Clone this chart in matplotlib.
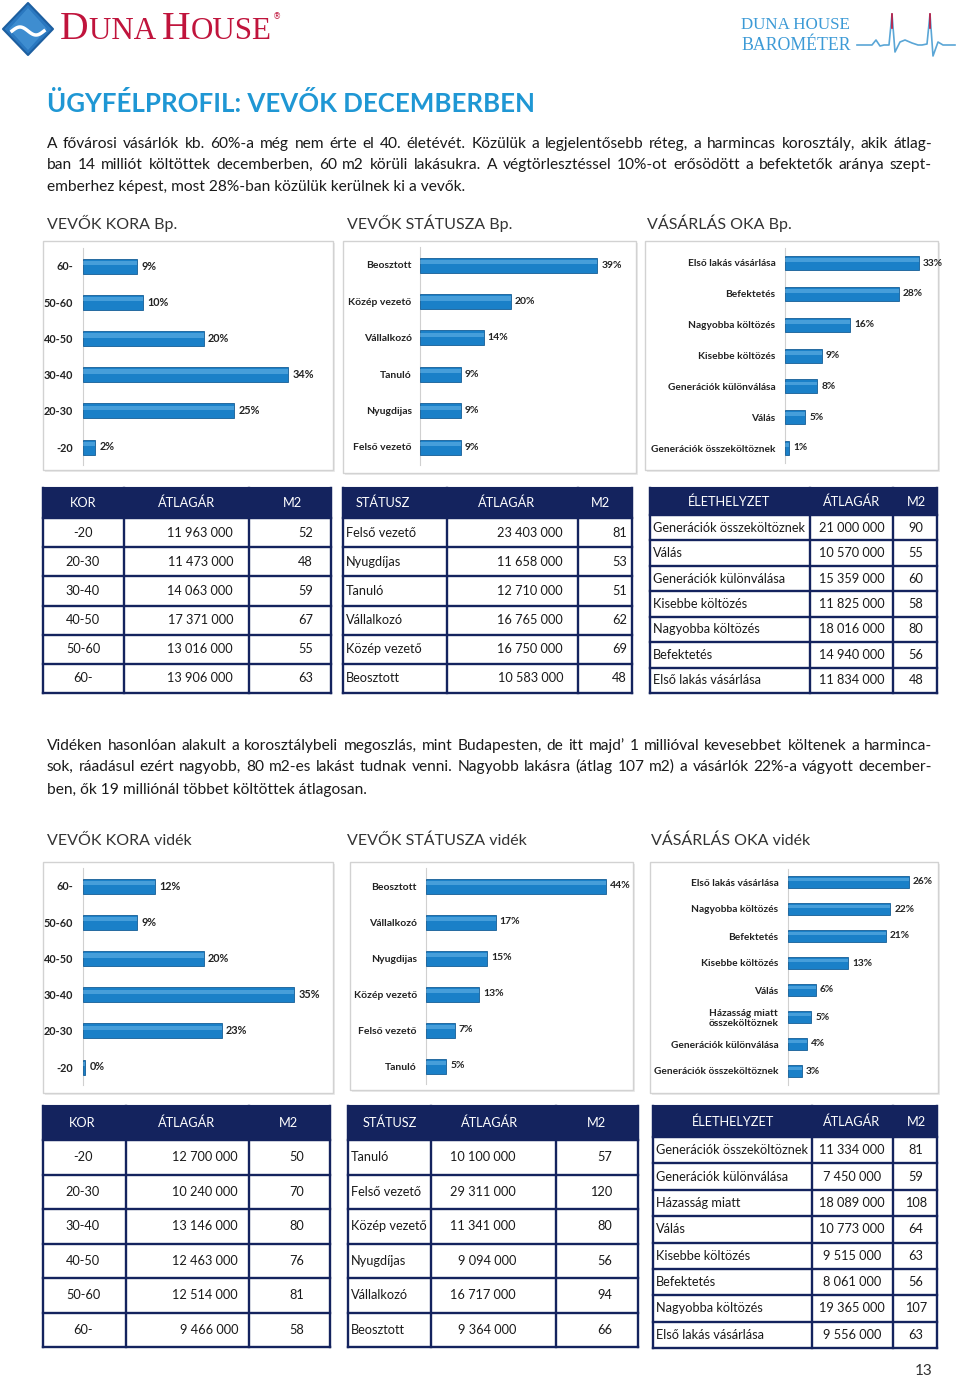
import matplotlib
matplotlib.use("Agg")
import matplotlib.pyplot as plt
from matplotlib.patches import Rectangle, Polygon
import numpy as np

plt.rcParams['font.family'] = ['Lato', 'DejaVu Sans']

# ---------------- DATA ----------------
age_cats = ["60-", "50-60", "40-50", "30-40", "20-30", "-20"]
age_bp = [9, 10, 20, 34, 25, 2]
status_bp_cats = ["Beosztott", "Közép vezető", "Vállalkozó", "Tanuló", "Nyugdijas", "Felső vezető"]
status_bp = [39, 20, 14, 9, 9, 9]
reason_bp_cats = ["Első lakás vásárlása", "Befektetés", "Nagyobba költözés", "Kisebbe költözés",
                  "Generációk különválása", "Válás", "Generációk összeköltöznek"]
reason_bp = [33, 28, 16, 9, 8, 5, 1]

age_v = [12, 9, 20, 35, 23, 0.4]
status_v_cats = ["Beosztott", "Vállalkozó", "Nyugdijas", "Közép vezető", "Felső vezető", "Tanuló"]
status_v = [44, 17, 15, 13, 7, 5]
reason_v_cats = ["Első lakás vásárlása", "Nagyobba költözés", "Befektetés", "Kisebbe költözés", "Válás",
                 "Házasság miatt\nösszeköltöznek", "Generációk különválása", "Generációk összeköltöznek"]
reason_v = [26, 22, 21, 13, 6, 5, 4, 3]

kor_rows = ["-20", "20-30", "30-40", "40-50", "50-60", "60-"]
kor_bp_price = [11963000, 11473000, 14063000, 17371000, 13016000, 13906000]
kor_bp_m2 = [52, 48, 59, 67, 55, 63]
stat_bp_rows = ["Felső vezető", "Nyugdíjas", "Tanuló", "Vállalkozó", "Közép vezető", "Beosztott"]
stat_bp_price = [23403000, 11658000, 12710000, 16765000, 16750000, 10583000]
stat_bp_m2 = [81, 53, 51, 62, 69, 48]
elet_bp_rows = ["Generációk összeköltöznek", "Válás", "Generációk különválása", "Kisebbe költözés",
                "Nagyobba költözés", "Befektetés", "Első lakás vásárlása"]
elet_bp_price = [21000000, 10570000, 15359000, 11825000, 18016000, 14940000, 11834000]
elet_bp_m2 = [90, 55, 60, 58, 80, 56, 48]

kor_v_price = [12700000, 10240000, 13146000, 12463000, 12514000, 9466000]
kor_v_m2 = [50, 70, 80, 76, 81, 58]
stat_v_rows = ["Tanuló", "Felső vezető", "Közép vezető", "Nyugdíjas", "Vállalkozó", "Beosztott"]
stat_v_price = [10100000, 29311000, 11341000, 9094000, 16717000, 9364000]
stat_v_m2 = [57, 120, 80, 56, 94, 66]
elet_v_rows = ["Generációk összeköltöznek", "Generációk különválása", "Házasság miatt", "Válás",
               "Kisebbe költözés", "Befektetés", "Nagyobba költözés", "Első lakás vásárlása"]
elet_v_price = [11334000, 7450000, 18089000, 10773000, 9515000, 8061000, 19365000, 9556000]
elet_v_m2 = [81, 59, 108, 64, 63, 56, 107, 63]

title = "ÜGYFÉLPROFIL: VEVŐK DECEMBERBEN"
para1 = ["A fővárosi vásárlók kb. 60%-a még nem érte el 40. életévét. Közülük a legjelentősebb réteg, a harmincas korosztály, akik átlag-",
         "ban 14 milliót költöttek decemberben, 60 m2 körüli lakásukra. A végtörlesztéssel 10%-ot erősödött a befektetők aránya szept-",
         "emberhez képest, most 28%-ban közülük kerülnek ki a vevők."]
para2 = ["Vidéken hasonlóan alakult a korosztálybeli megoszlás, mint Budapesten, de itt majd’ 1 millióval kevesebbet költenek a harminca-",
         "sok, ráadásul ezért nagyobb, 80 m2-es lakást tudnak venni. Nagyobb lakásra (átlag 107 m2) a vásárlók 22%-a vágyott december-",
         "ben, ők 19 milliónál többet költöttek átlagosan."]

# ---------------- SETUP ----------------
W, H = 960, 1380
fig = plt.figure(figsize=(9.6, 13.8), dpi=100)
page = fig.add_axes([0, 0, 1, 1])
page.set_xlim(0, W)
page.set_ylim(H, 0)
page.axis('off')
renderer = fig.canvas.get_renderer()

NAVY = '#14235e'
BLUE_TXT = '#1f97d4'
DARK = '#222222'


def px_axes(x, y, w, h):
    return fig.add_axes([x / W, 1 - (y + h) / H, w / W, h / H])


def text_width(s, fs, **kw):
    t = page.text(0, 0, s, fontsize=fs, **kw)
    w = t.get_window_extent(renderer).width
    t.remove()
    return w


def fit_text(x, y, s, target, fs, **kw):
    w = text_width(s, fs, **{k: v for k, v in kw.items() if k in ('fontweight', 'family')})
    fs2 = fs * target / w
    return page.text(x, y, s, fontsize=fs2, **kw)


def justified(lines, x0, x1, ys, fs, color):
    for i, (line, y) in enumerate(zip(lines, ys)):
        if i == len(lines) - 1:
            page.text(x0, y, line, fontsize=fs, va='baseline', ha='left', color=color)
            continue
        words = line.split(' ')
        widths = [text_width(w, fs) for w in words]
        gap = (x1 - x0 - sum(widths)) / (len(words) - 1)
        x = x0
        for w, wd in zip(words, widths):
            page.text(x, y, w, fontsize=fs, va='baseline', ha='left', color=color)
            x += wd + gap


# ---------------- HEADER ----------------
page.add_patch(Polygon([(28, 3), (53, 29), (28, 55), (3, 29)], closed=True,
                       fc='#2a78c0', ec='#1d5fa0', lw=1.5, joinstyle='round'))
page.add_patch(Polygon([(28, 8), (47, 29), (28, 50), (9, 29)], closed=True,
                       fc='#4d9cdb', ec='none', alpha=0.6))
wx = np.linspace(12, 44, 40)
page.plot(wx, 31 - 4 * np.sin((wx - 12) / 32 * 2 * np.pi), color='white', lw=2.5)

xs = 60
pieces = [("D", 28.5), ("UNA ", 22.3), ("H", 28.5), ("OUSE", 22.3)]
for s, f in pieces:
    page.text(xs, 39, s, fontsize=f, family='Liberation Serif', color='#c0143c', va='baseline')
    xs += text_width(s, f, family='Liberation Serif')
page.text(xs + 1, 17, "®", fontsize=6, family='DejaVu Sans', color='#c0143c', va='center')

fit_text(741, 25, "DUNA HOUSE", 109, 12, family='Liberation Serif', color='#3c9ad6', va='center')
fit_text(741, 45, "BAROMÉTER", 109, 12, family='Liberation Serif', color='#3c9ad6', va='center')
ex = [857, 872, 876, 880, 884, 889, 892, 895, 900, 905, 912, 918, 922, 927, 930, 933, 938, 943, 955]
ey = [45, 45, 40, 46, 45, 45, 14, 52, 42, 40, 43, 45, 45, 44, 14, 56, 42, 45, 45]
page.plot(ex, ey, color='#5aa6d6', lw=1.2)
page.plot([892, 892], [14, 28], color='#c0143c', lw=1.2)
page.plot([930, 930], [14, 28], color='#c0143c', lw=1.2)

# ---------------- TITLE & TEXT ----------------
fit_text(47, 104, title, 486, 16, fontweight='bold', color=BLUE_TXT, va='center')

base_fs = 10.2
maxw = max(text_width(l, base_fs) for l in para1 + para2)
pfs = base_fs * 868 / maxw
justified(para1, 47, 932, [148, 169, 191], pfs, '#1a1a1a')
justified(para2, 47, 932, [750, 771, 794], pfs, '#1a1a1a')

sec_fs = 11.5
for x, y, s in [(47, 223, "VEVŐK KORA Bp."), (347, 223, "VEVŐK STÁTUSZA Bp."), (647, 223, "VÁSÁRLÁS OKA Bp."),
                (47, 841, "VEVŐK KORA vidék"), (347, 841, "VEVŐK STÁTUSZA vidék"),
                (651, 841, "VÁSÁRLÁS OKA vidék")]:
    page.text(x, y, s, fontsize=sec_fs, color='#333333', va='center', ha='left')

page.text(933, 1371, "13", fontsize=11, color='#333333', va='center', ha='right')

# ---------------- CHART BOXES ----------------
for (x, y, w, h) in [(43, 241, 290, 229), (343, 241, 293, 232), (645, 241, 293, 229),
                     (43, 862, 290, 231), (350, 862, 283, 228), (650, 862, 288, 231)]:
    page.add_patch(Rectangle((x + 2, y + 2), w, h, fc='#ececec', ec='none', zorder=0))
    page.add_patch(Rectangle((x, y), w, h, fc='white', ec='#d2d2d2', lw=1, zorder=1))


# ---------------- BAR CHARTS ----------------
def bar_chart(cats, vals, axis_x, yt, yb, scale, right, pad, bar_px=14, fs=7.5):
    n = len(cats)
    step = (yb - yt) / (n - 1)
    top = yt - step / 2
    hgt = n * step
    ax = px_axes(axis_x, top, right - axis_x, hgt)
    ax.patch.set_alpha(0)
    ax.set_xlim(0, (right - axis_x) / scale)
    ax.set_ylim(-0.5, n - 0.5)
    pos = np.arange(n)[::-1]
    bh = bar_px / step
    ax.barh(pos, vals, height=bh, color='#1a80c8', edgecolor='#155d96', lw=0.6, zorder=3)
    ax.barh(pos + bh * 0.2, vals, height=bh * 0.28, color='#7cc4f0', alpha=0.45, lw=0, zorder=4)
    for p, v in zip(pos, vals):
        ax.annotate(f"{round(v)}%", (v, p), xytext=(3, 0), textcoords='offset points',
                    va='center', ha='left', fontsize=fs, fontweight='bold', color=DARK)
    ax.set_yticks(pos)
    ax.set_yticklabels(cats, fontsize=fs, fontweight='bold', color=DARK)
    for lab in ax.get_yticklabels():
        lab.set_multialignment('center')
    ax.tick_params(axis='y', length=0, pad=pad)
    ax.set_xticks([])
    for s in ['top', 'right', 'bottom']:
        ax.spines[s].set_visible(False)
    ax.spines['left'].set_color('#d0d0d0')
    ax.spines['left'].set_linewidth(0.8)
    return ax


bar_chart(age_cats, age_bp, 83, 266, 447, 6.04, 330, 7, bar_px=15, fs=7.8)
bar_chart(status_bp_cats, status_bp, 420, 265, 447, 4.54, 632, 6, bar_px=15)
bar_chart(reason_bp_cats, reason_bp, 785, 263, 448, 4.06, 936, 7, bar_px=14, fs=7.3)
bar_chart(age_cats, age_v, 83, 886, 1067, 6.03, 330, 7, bar_px=15, fs=7.8)
bar_chart(status_v_cats, status_v, 426, 886, 1066, 4.09, 630, 6.5, bar_px=15)
bar_chart(reason_v_cats, reason_v, 788, 882, 1071, 4.65, 936, 7, bar_px=12, fs=7.3)


# ---------------- TABLES ----------------
def fmt(v):
    return f"{v:,}".replace(",", " ")


def draw_table(edges, y0, hh, y1, headers, hcx, columns, aligns, xs, fs=9.2):
    n = len(columns[0])
    rh = (y1 - y0 - hh) / n
    page.add_patch(Rectangle((edges[0], y0), edges[-1] - edges[0], hh, fc=NAVY, ec=NAVY, lw=1.5, zorder=2))
    for hd, cx in zip(headers, hcx):
        page.text(cx, y0 + hh / 2, hd, color='white', fontsize=fs, ha='center', va='center', zorder=5)
    for i in range(n + 1):
        yy = y0 + hh + i * rh
        page.plot([edges[0], edges[-1]], [yy, yy], color=NAVY, lw=1.7, zorder=3,
                  solid_capstyle='projecting')
    for xe in edges:
        page.plot([xe, xe], [y0, y1], color=NAVY, lw=1.7, zorder=3, solid_capstyle='projecting')
    for col, al, x in zip(columns, aligns, xs):
        for i, v in enumerate(col):
            page.text(x, y0 + hh + (i + 0.5) * rh, v, ha=al, va='center', fontsize=fs,
                      color='#1a1a1a', zorder=5)


draw_table([43, 124, 249, 331], 488, 30, 693, ["KOR", "ÁTLAGÁR", "M2"], [83, 187, 292],
           [kor_rows, [fmt(v) for v in kor_bp_price], [str(v) for v in kor_bp_m2]],
           ['center', 'right', 'right'], [83, 233, 313])
draw_table([343, 447, 578, 632], 488, 30, 693, ["STÁTUSZ", "ÁTLAGÁR", "M2"], [383, 507, 600],
           [stat_bp_rows, [fmt(v) for v in stat_bp_price], [str(v) for v in stat_bp_m2]],
           ['left', 'right', 'right'], [346, 563, 627])
draw_table([650, 810, 893, 937], 488, 27, 693, ["ÉLETHELYZET", "ÁTLAGÁR", "M2"], [729, 852, 916],
           [elet_bp_rows, [fmt(v) for v in elet_bp_price], [str(v) for v in elet_bp_m2]],
           ['left', 'center', 'center'], [653, 852, 916])

draw_table([43, 126, 249, 330], 1106, 34, 1347, ["KOR", "ÁTLAGÁR", "M2"], [82, 187, 288],
           [kor_rows, [fmt(v) for v in kor_v_price], [str(v) for v in kor_v_m2]],
           ['center', 'right', 'right'], [83, 238, 304])
draw_table([348, 431, 556, 638], 1106, 34, 1347, ["STÁTUSZ", "ÁTLAGÁR", "M2"], [390, 490, 597],
           [stat_v_rows, [fmt(v) for v in stat_v_price], [str(v) for v in stat_v_m2]],
           ['left', 'right', 'right'], [351, 516, 612])
draw_table([653, 812, 893, 937], 1106, 31, 1348, ["ÉLETHELYZET", "ÁTLAGÁR", "M2"], [733, 852, 916],
           [elet_v_rows, [fmt(v) for v in elet_v_price], [str(v) for v in elet_v_m2]],
           ['left', 'center', 'center'], [656, 852, 916])

fig.savefig("out.png", dpi=100)
